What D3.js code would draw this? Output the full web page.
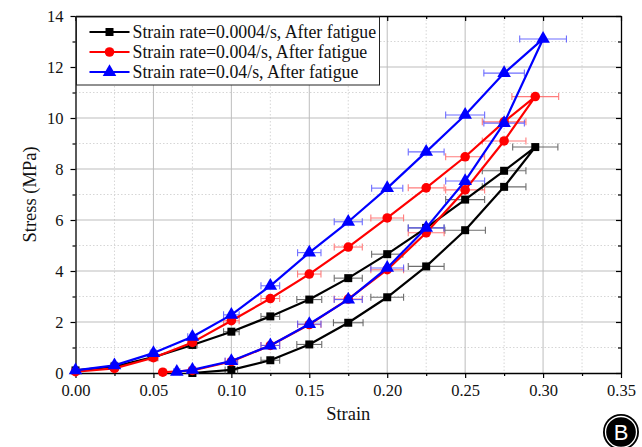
<!DOCTYPE html>
<html>
<head>
<meta charset="utf-8">
<style>
  body { margin: 0; background: #fff; }
  svg { display: block; font-family: "Liberation Serif", "Times New Roman", serif; }
</style>
</head>
<body>
<div id="chart"></div>
<script src="https://d3js.org/d3.v7.min.js"></script>
<script>
  // Loading branch goes up, unloading branch comes back down
  const seriesNames = [
    'Strain rate=0.0004/s, After fatigue',
    'Strain rate=0.004/s, After fatigue',
    'Strain rate=0.04/s, After fatigue'
  ];
  const seriesColors = ['#000000', '#ff0000', '#0000ff'];
  const barColors = ['#555555', '#ff6666', '#5555ff'];

  // Strain rate 0.0004/s
  const blackStrain = [0, 0.025, 0.05, 0.075, 0.1, 0.125, 0.15, 0.175, 0.2, 0.225, 0.25, 0.275, 0.295,
    0.275, 0.25, 0.225, 0.2, 0.175, 0.15, 0.125, 0.1, 0.075];
  const blackStress = [0.1, 0.25, 0.62, 1.1, 1.62, 2.22, 2.88, 3.72, 4.66, 5.69, 6.8, 7.93, 8.86,
    7.3, 5.6, 4.18, 2.97, 1.97, 1.12, 0.5, 0.12, 0.0];
  const blackErr = [0, 0, 0.002, 0.003, 0.005, 0.006, 0.008, 0.009, 0.01, 0.0115, 0.0125, 0.014, 0.0145,
    0.014, 0.013, 0.0115, 0.0105, 0.0095, 0.008, 0.006, 0.004, 0.002];

  // Strain rate 0.004/s
  const redStrain = [0, 0.025, 0.05, 0.075, 0.1, 0.125, 0.15, 0.175, 0.2, 0.225, 0.25, 0.275, 0.295,
    0.275, 0.25, 0.225, 0.2, 0.175, 0.15, 0.125, 0.1, 0.075, 0.056];
  const redStress = [0.05, 0.18, 0.6, 1.2, 2.05, 2.92, 3.88, 4.94, 6.08, 7.26, 8.48, 9.85, 10.84,
    9.1, 7.18, 5.5, 4.05, 2.9, 1.9, 1.08, 0.45, 0.1, 0.03];
  const redErr = [0, 0.002, 0.003, 0.003, 0.005, 0.006, 0.0075, 0.009, 0.0105, 0.0115, 0.0125, 0.014, 0.015,
    0.014, 0.0125, 0.0115, 0.0105, 0.009, 0.0075, 0.006, 0.004, 0.002, 0.002];

  // Strain rate 0.04/s
  const blueStrain = [0, 0.025, 0.05, 0.075, 0.1, 0.125, 0.15, 0.175, 0.2, 0.225, 0.25, 0.275, 0.3,
    0.275, 0.25, 0.225, 0.2, 0.175, 0.15, 0.125, 0.1, 0.075, 0.065];
  const blueStress = [0.1, 0.3, 0.78, 1.42, 2.28, 3.42, 4.72, 5.93, 7.25, 8.67, 10.12, 11.76, 13.1,
    9.8, 7.53, 5.69, 4.12, 2.88, 1.92, 1.08, 0.47, 0.12, 0.05];
  const blueErr = [0, 0.002, 0.002, 0.003, 0.005, 0.006, 0.0075, 0.009, 0.01, 0.0115, 0.0125, 0.013, 0.015,
    0.013, 0.0125, 0.0115, 0.0105, 0.009, 0.0075, 0.006, 0.004, 0.002, 0.002];

  const xTicks = [0, 0.05, 0.1, 0.15, 0.2, 0.25, 0.3, 0.35];
  const yTicks = [0, 2, 4, 6, 8, 10, 12, 14];

  const series = [
    { name: seriesNames[0], x: blackStrain, y: blackStress, e: blackErr, shape: 'square' },
    { name: seriesNames[1], x: redStrain, y: redStress, e: redErr, shape: 'circle' },
    { name: seriesNames[2], x: blueStrain, y: blueStress, e: blueErr, shape: 'triangle' }
  ].map((s, i) => ({
    ...s,
    color: seriesColors[i],
    barColor: barColors[i],
    points: s.x.map((v, j) => ({ x: v, y: s.y[j], e: s.e[j] }))
  }));

  const width = 642;
  const height = 447;
  const margin = { top: 16, right: 21, bottom: 74, left: 75.5 };
  const innerW = width - margin.left - margin.right;
  const innerH = height - margin.top - margin.bottom;

  const svg = d3.select('#chart')
    .append('svg')
    .attr('width', width)
    .attr('height', height);

  const g = svg.append('g')
    .attr('transform', `translate(${margin.left}, ${margin.top})`);

  const x = d3.scaleLinear().domain([0, 0.35]).range([0, innerW]);
  const y = d3.scaleLinear().domain([0, 14]).range([innerH, 0]);

  const xMinor = d3.range(0.025, 0.35, 0.05);
  const yMinor = d3.range(1, 14, 2);

  // minor grid (dotted) then major grid
  g.append('g').selectAll('line')
    .data(xMinor).enter().append('line')
    .attr('x1', (d) => x(d)).attr('x2', (d) => x(d))
    .attr('y1', 0).attr('y2', innerH)
    .attr('stroke', '#d6d6d6').attr('stroke-dasharray', '1.5,2');
  g.append('g').selectAll('line')
    .data(yMinor).enter().append('line')
    .attr('y1', (d) => y(d)).attr('y2', (d) => y(d))
    .attr('x1', 0).attr('x2', innerW)
    .attr('stroke', '#d6d6d6').attr('stroke-dasharray', '1.5,2');
  g.append('g').selectAll('line')
    .data(xTicks.slice(1, -1)).enter().append('line')
    .attr('x1', (d) => x(d)).attr('x2', (d) => x(d))
    .attr('y1', 0).attr('y2', innerH)
    .attr('stroke', '#bdbdbd').attr('stroke-width', 1);
  g.append('g').selectAll('line')
    .data(yTicks.slice(1, -1)).enter().append('line')
    .attr('y1', (d) => y(d)).attr('y2', (d) => y(d))
    .attr('x1', 0).attr('x2', innerW)
    .attr('stroke', '#bdbdbd').attr('stroke-width', 1);

  // axes
  const fmtX = d3.format('.2f');
  const bottom = g.append('g')
    .attr('transform', `translate(0, ${innerH})`)
    .call(d3.axisBottom(x).tickValues(xTicks).tickFormat(fmtX).tickSize(5).tickSizeOuter(0));
  g.append('g')
    .attr('transform', `translate(0, ${innerH})`)
    .call(d3.axisBottom(x).tickValues(xMinor).tickFormat('').tickSize(3).tickSizeOuter(0))
    .select('.domain').remove();
  const left = g.append('g')
    .call(d3.axisLeft(y).tickValues(yTicks).tickSize(5).tickSizeOuter(0));
  g.append('g')
    .call(d3.axisLeft(y).tickValues(yMinor).tickFormat('').tickSize(3).tickSizeOuter(0))
    .select('.domain').remove();
  g.append('g')
    .call(d3.axisBottom(x).tickValues(xTicks).tickFormat('').tickSize(5).tickSizeOuter(0));
  g.append('g')
    .call(d3.axisBottom(x).tickValues(xMinor).tickFormat('').tickSize(3).tickSizeOuter(0))
    .select('.domain').remove();
  g.append('g')
    .attr('transform', `translate(${innerW}, 0)`)
    .call(d3.axisLeft(y).tickValues(yTicks).tickFormat('').tickSize(5).tickSizeOuter(0));
  g.append('g')
    .attr('transform', `translate(${innerW}, 0)`)
    .call(d3.axisLeft(y).tickValues(yMinor).tickFormat('').tickSize(3).tickSizeOuter(0))
    .select('.domain').remove();

  g.selectAll('.domain').attr('stroke', '#000').attr('stroke-width', 1.3);
  g.selectAll('.tick line').attr('stroke', '#000').attr('stroke-width', 1.2);
  bottom.selectAll('text')
    .attr('font-family', '"Liberation Serif", serif').attr('font-size', 16.5).attr('fill', '#111').attr('dy', '0.9em');
  left.selectAll('text')
    .attr('font-family', '"Liberation Serif", serif').attr('font-size', 16.5).attr('fill', '#111').attr('x', -12);

  // error bars
  series.forEach((s) => {
    const eb = g.append('g').attr('stroke', s.barColor).attr('stroke-width', 1.1).attr('opacity', 0.85);
    const withErr = s.points.filter((p) => p.e > 0);
    eb.selectAll('line.h').data(withErr).enter().append('line')
      .attr('x1', (p) => x(p.x - p.e)).attr('x2', (p) => x(p.x + p.e))
      .attr('y1', (p) => y(p.y)).attr('y2', (p) => y(p.y));
    eb.selectAll('line.l').data(withErr).enter().append('line')
      .attr('x1', (p) => x(p.x - p.e)).attr('x2', (p) => x(p.x - p.e))
      .attr('y1', (p) => y(p.y) - 3.5).attr('y2', (p) => y(p.y) + 3.5);
    eb.selectAll('line.r').data(withErr).enter().append('line')
      .attr('x1', (p) => x(p.x + p.e)).attr('x2', (p) => x(p.x + p.e))
      .attr('y1', (p) => y(p.y) - 3.5).attr('y2', (p) => y(p.y) + 3.5);
  });

  const line = d3.line().x((p) => x(p.x)).y((p) => y(p.y));
  const symbols = {
    square: d3.symbol().type(d3.symbolSquare).size(64),
    circle: d3.symbol().type(d3.symbolCircle).size(72),
    triangle: d3.symbol().type(d3.symbolTriangle).size(80)
  };

  series.forEach((s) => {
    g.append('path')
      .datum(s.points)
      .attr('fill', 'none')
      .attr('stroke', s.color)
      .attr('stroke-width', 2.2)
      .attr('stroke-linejoin', 'round')
      .attr('d', line);
    g.append('g').selectAll('path')
      .data(s.points).enter().append('path')
      .attr('transform', (p) => `translate(${x(p.x)}, ${y(p.y)})`)
      .attr('d', symbols[s.shape])
      .attr('fill', s.color);
  });

  // legend
  const legend = g.append('g').attr('transform', 'translate(1, 1)');
  legend.append('rect')
    .attr('width', 303).attr('height', 68)
    .attr('fill', '#fff').attr('stroke', '#222').attr('stroke-width', 1);
  series.forEach((s, i) => {
    const row = legend.append('g').attr('transform', `translate(13, ${15 + i * 20})`);
    row.append('line').attr('x1', 0).attr('x2', 40).attr('stroke', s.color).attr('stroke-width', 2.2);
    row.append('path').attr('transform', 'translate(20, 0)').attr('d', symbols[s.shape]).attr('fill', s.color);
    row.append('text').attr('x', 43).attr('dy', '0.35em')
      .attr('font-size', 17.8).attr('fill', '#111').text(s.name);
  });

  // axis titles
  svg.append('text')
    .attr('x', margin.left + innerW / 2).attr('y', 420)
    .attr('text-anchor', 'middle').attr('font-size', 18.5).attr('fill', '#111')
    .text('Strain');
  svg.append('text')
    .attr('transform', `translate(36, ${margin.top + innerH / 2}) rotate(-90)`)
    .attr('text-anchor', 'middle').attr('font-size', 18.5).attr('fill', '#111')
    .text('Stress (MPa)');

  // panel badge
  const badge = svg.append('g').attr('transform', 'translate(621, 432)');
  badge.append('circle').attr('r', 18).attr('fill', '#000');
  badge.append('circle').attr('r', 15.5).attr('fill', 'none').attr('stroke', '#fff').attr('stroke-width', 1.3);
  badge.append('text').attr('text-anchor', 'middle').attr('dy', '0.36em')
    .attr('font-family', 'Arial, "Liberation Sans", sans-serif').attr('font-size', 22)
    .attr('fill', '#fff').text('B');
</script>
</body>
</html>
